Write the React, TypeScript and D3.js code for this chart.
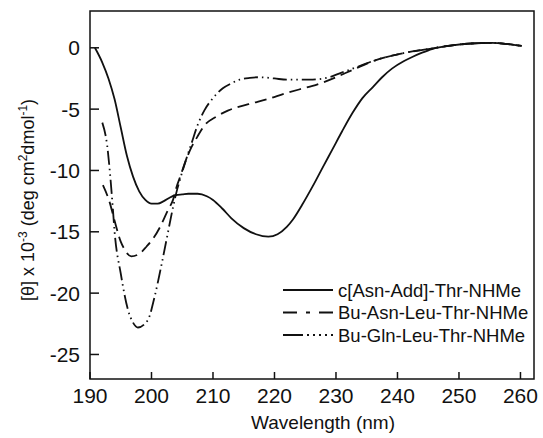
import * as d3 from "d3";

// wavelength (nm) / [theta] x 10^-3
const solidX = [190.8, 192, 193, 194, 195, 196, 197, 198, 199, 200, 201, 202, 203, 204, 205, 206, 207.5, 209, 210, 211.5, 213, 215, 217, 219, 220.5, 222, 223, 224.5, 226.2, 228, 229.4, 231, 232.7, 234.3, 236, 237.5, 239.1, 241, 242.4, 244, 245.6, 248.9, 252, 255.3, 258, 260.2];
const solidY = [0, -1.2, -2.5, -4.2, -6.5, -8.8, -10.5, -11.7, -12.4, -12.7, -12.7, -12.5, -12.2, -12.0, -11.95, -11.9, -11.9, -12.1, -12.4, -13.1, -13.9, -14.7, -15.2, -15.4, -15.2, -14.6, -14.0, -12.8, -11.3, -9.6, -8.3, -6.8, -5.3, -4.1, -3.2, -2.4, -1.7, -1.1, -0.75, -0.4, -0.1, 0.2, 0.35, 0.4, 0.3, 0.15];

const asnX = [192.1, 193.2, 194, 195, 195.7, 196.7, 198, 199.2, 200.2, 201.4, 202.7, 203.5, 204.1, 204.6, 205.5, 206.5, 207.4, 208.5, 210.6, 212.5, 214.3, 216.5, 218.7, 221.9, 224, 226.2, 228, 230, 232.7, 236.5, 240.8, 245, 248.9, 252, 255.3, 258, 260.2];
const asnY = [-11.2, -12.6, -14.1, -15.8, -16.5, -17.0, -16.8, -16.2, -15.6, -14.6, -13.2, -12.4, -11.3, -10.6, -9.3, -8.1, -7.3, -6.4, -5.6, -5.1, -4.8, -4.5, -4.2, -3.7, -3.4, -3.1, -2.8, -2.4, -1.8, -1.0, -0.45, -0.1, 0.2, 0.35, 0.4, 0.3, 0.15];

const glnX = [192, 192.8, 193.3, 193.7, 194, 195, 196.2, 197, 197.8, 199.4, 200.5, 201.5, 202.5, 203.5, 204.2, 204.6, 205.5, 206.5, 207.5, 208.6, 210, 211.6, 213, 214.3, 216, 217.6, 220, 222, 225.7, 228.9, 230.5, 232.7, 236.5, 240.8, 245, 248.9, 252, 255.3, 258, 260.2];
const glnY = [-6.1, -8, -10.5, -13, -15, -18.4, -21.4, -22.4, -22.8, -22.2, -20.3, -18.0, -15.5, -13, -11.5, -10.8, -9.3, -7.8, -6.3, -5.1, -4.1, -3.3, -2.9, -2.6, -2.45, -2.4, -2.5, -2.6, -2.6, -2.4, -2.1, -1.7, -1.0, -0.45, -0.1, 0.2, 0.35, 0.4, 0.3, 0.15];

const xTicks = [190, 200, 210, 220, 230, 240, 250, 260];
const yTicks = [0, -5, -10, -15, -20, -25];

const seriesNames = ["c[Asn-Add]-Thr-NHMe", "Bu-Asn-Leu-Thr-NHMe", "Bu-Gln-Leu-Thr-NHMe"];

const font = "'Liberation Sans', Arial, Helvetica, sans-serif";

export default function App() {
  const left = 90, right = 534, top = 11, bottom = 379;
  const x = d3.scaleLinear().domain([190, 262.2]).range([left, right]);
  const y = d3.scaleLinear().domain([-27, 3]).range([bottom, top]);

  const line = d3
    .line<[number, number]>()
    .x((d) => x(d[0]))
    .y((d) => y(d[1]))
    .curve(d3.curveMonotoneX);

  const zip = (xs: number[], ys: number[]) => xs.map((v, i) => [v, ys[i]] as [number, number]);

  const series = [
    { name: seriesNames[0], d: line(zip(solidX, solidY)), dash: "none", legendDash: "none" },
    { name: seriesNames[1], d: line(zip(asnX, asnY)), dash: "12,6", legendDash: "14,9,4,9" },
    { name: seriesNames[2], d: line(zip(glnX, glnY)), dash: "14,4,1.5,4,1.5,4", legendDash: "20,4,2,4,2,4,2,4,2,4" },
  ];

  return (
    <svg
      width={543}
      height={438}
      style={{ position: "absolute", left: 0, top: 0, background: "#fff" }}
    >
      <rect x={left} y={top} width={right - left} height={bottom - top} fill="none" stroke="#111" strokeWidth={1.5} />

      {xTicks.map((t) => (
        <g key={"x" + t}>
          <line x1={x(t)} x2={x(t)} y1={bottom} y2={bottom - 7} stroke="#111" strokeWidth={1.5} />
          <text x={x(t)} y={403} textAnchor="middle" fontFamily={font} fontSize={21} fill="#111">
            {t}
          </text>
        </g>
      ))}
      {yTicks.map((t) => (
        <g key={"y" + t}>
          <line x1={left} x2={left + 9} y1={y(t)} y2={y(t)} stroke="#111" strokeWidth={1.5} />
          <text x={80} y={y(t)} dy="0.36em" textAnchor="end" fontFamily={font} fontSize={21} fill="#111">
            {t}
          </text>
        </g>
      ))}

      {series.map((s) => (
        <path key={s.name} d={s.d ?? ""} fill="none" stroke="#111" strokeWidth={1.8} strokeDasharray={s.dash} />
      ))}

      {series.map((s, i) => (
        <g key={"lg" + i} transform={`translate(0, ${290 + i * 22.5})`}>
          <line x1={283} x2={333} y1={0} y2={0} stroke="#111" strokeWidth={1.8} strokeDasharray={s.legendDash} />
          <text x={338} y={0} dy="0.36em" fontFamily={font} fontSize={18.5} fill="#111">
            {s.name}
          </text>
        </g>
      ))}

      <text x={323} y={429} textAnchor="middle" fontFamily={font} fontSize={19} fill="#111">
        Wavelength (nm)
      </text>

      <text
        transform="translate(34, 200) rotate(-90)"
        textAnchor="middle"
        fontFamily={font}
        fontSize={18}
        fill="#111"
      >
        [θ] x 10<tspan fontSize={12} dy={-7}>-3</tspan>
        <tspan dy={7}> (deg cm</tspan>
        <tspan fontSize={12} dy={-7}>2</tspan>
        <tspan dy={7}>dmol</tspan>
        <tspan fontSize={12} dy={-7}>-1</tspan>
        <tspan dy={7}>)</tspan>
      </text>
    </svg>
  );
}
